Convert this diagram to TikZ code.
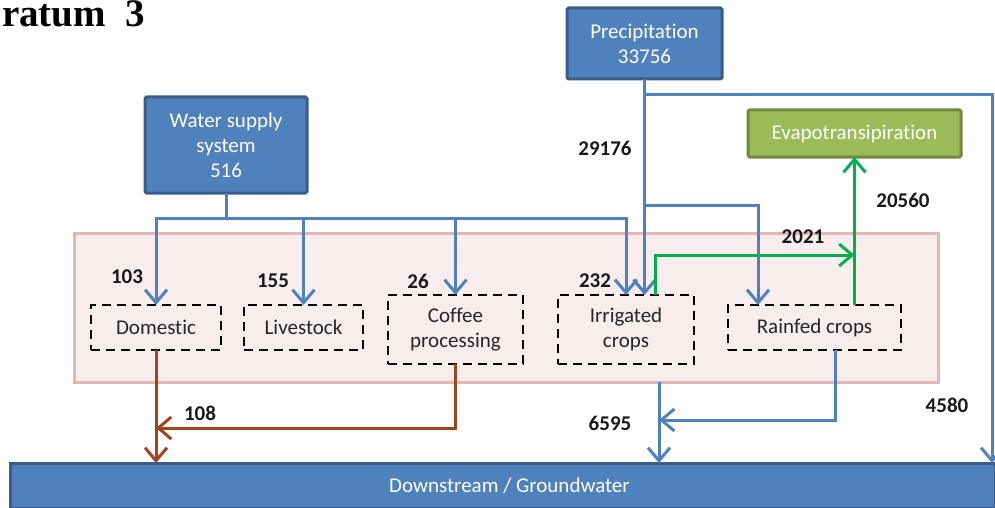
\documentclass[tikz,border=0pt]{standalone}
\usepackage{fontspec}
\setmainfont{Carlito}[Ligatures=NoCommon]
\newfontfamily\titlefont{Liberation Serif}
\usetikzlibrary{arrows.meta}
\definecolor{boxblue}{HTML}{4F81BD}
\definecolor{boxblueedge}{HTML}{385D8A}
\definecolor{lineblue}{HTML}{4F81BD}
\definecolor{boxgreen}{HTML}{9BBB59}
\definecolor{boxgreenedge}{HTML}{71893F}
\definecolor{flowgreen}{HTML}{00B050}
\definecolor{flowbrown}{HTML}{A0461E}
\definecolor{zonefill}{HTML}{F7EDED}
\definecolor{zoneedge}{HTML}{E3B5B4}

\begin{document}
\begin{tikzpicture}[x=1pt,y=-1pt,
  every node/.style={inner sep=0pt, outer sep=0pt},
  txt/.style={font=\fontsize{21}{25}\selectfont, align=center},
  srcbox/.style={txt, draw=boxblueedge, fill=boxblue, line width=3pt, text=white, rounded corners=1.5pt},
  etbox/.style={txt, draw=boxgreenedge, fill=boxgreen, line width=3pt, text=white, rounded corners=1.5pt},
  usebox/.style={txt, draw=black, line width=2.8pt, dash pattern=on 9pt off 6pt, text=black!85},
  zonebox/.style={draw=zoneedge, fill=zonefill, line width=3pt},
  num/.style={font=\bfseries\fontsize{21}{25}\selectfont, text=black!90},
  tipv/.style={-{Straight Barb[length=13pt,width=22pt]}},
  bl/.style={draw=lineblue, line width=3pt},
  gr/.style={draw=flowgreen, line width=3pt},
  br/.style={draw=flowbrown, line width=3pt},
]
\useasboundingbox (0,0) rectangle (995,508);

% heading fragment
\node[anchor=base west, text height=20pt, text depth=0pt,
      font=\titlefont\bfseries\fontsize{39}{41}\selectfont] (title) at (2,27) {ratum\hspace{20pt}3};

% water-use zone
\node[zonebox, minimum width=864pt, minimum height=149pt] (zone) at (506,307.5) {};

% sources and sinks
\node[srcbox, minimum width=162pt, minimum height=96pt] (ws) at (226,145) {Water supply\\system\\516};
\node[srcbox, minimum width=155pt, minimum height=71pt] (pr) at (644.5,43.5) {Precipitation\\33756};
\node[etbox, minimum width=213pt, minimum height=47pt] (evap) at (854.5,133.5) {Evapotransipiration};
\node[srcbox, rounded corners=0pt, minimum width=985pt, minimum height=45pt] (ds) at (502.5,485.5) {\hspace*{14pt}Downstream / Groundwater};

% users
\node[usebox, minimum width=130pt, minimum height=45pt] (dom) at (156,327.5) {Domestic};
\node[usebox, minimum width=119pt, minimum height=45pt] (liv) at (303.5,327.5) {Livestock};
\node[usebox, minimum width=135pt, minimum height=69pt] (cof) at (455.5,329.5) {Coffee\\processing};
\node[usebox, minimum width=136pt, minimum height=69pt] (irr) at (626,329.5) {Irrigated\\crops};
\node[usebox, minimum width=173pt, minimum height=45pt] (rain) at (814.5,327.5) {Rainfed crops};

% supply system to the users
\draw[bl] (ws.south) -- (ws.south |- 0,218) coordinate (wsbus);
\foreach \t in {dom,liv,cof,irr} \draw[bl,tipv] (wsbus) -| (\t.north);

% precipitation
\draw[bl,tipv] (pr.south) -- (pr.south |- irr.north);
\coordinate (rainin) at ([xshift=30pt]rain.north west);
\draw[bl,tipv] (pr.south |- 0,205) -| (rainin);
\coordinate (dsin) at ([xshift=-3pt]ds.north east);
\draw[bl,tipv] (pr.south |- 0,95) -| (dsin);

% evapotranspiration
\draw[gr,tipv] (evap.south |- rain.north) -- (evap.south);
\coordinate (irrup) at ([xshift=29pt]irr.north);
\draw[gr,tipv] (irrup) |- (evap.south |- 0,255);

% return flows
\draw[br,tipv] (dom.south) -- (dom.south |- ds.north);
\draw[br,tipv] (cof.south) |- (dom.south |- 0,428);
\coordinate (irrout) at ([xshift=33pt]irr.south);
\draw[bl,tipv] (irrout |- zone.south) -- (irrout |- ds.north);
\coordinate (rainout) at ([xshift=20.5pt]rain.south);
\draw[bl,tipv] (rainout) |- (irrout |- 0,420);

% flow values
\node[num] (n103) at (127,277) {103};
\node[num] (n155) at (273,281) {155};
\node[num] (n26) at (418,281) {26};
\node[num] (n232) at (595,281) {232};
\node[num] (n29176) at (605,148) {29176};
\node[num] (n2021) at (803,237) {2021};
\node[num] (n20560) at (903,200) {20560};
\node[num] (n108) at (200,413) {108};
\node[num] (n6595) at (610,423) {6595};
\node[num] (n4580) at (947,405) {4580};
\end{tikzpicture}
\end{document}
